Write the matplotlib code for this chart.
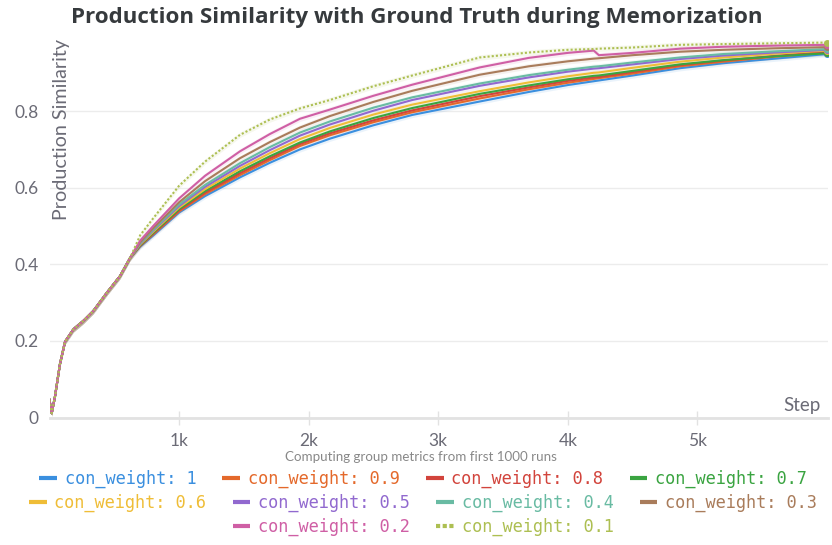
import matplotlib
matplotlib.use("Agg")
import matplotlib.pyplot as plt
from matplotlib.lines import Line2D

# ---------------- data ----------------
steps = [0, 17, 42, 81, 120, 184, 261, 338, 441, 544, 621,
         700, 800, 1000, 1200, 1470, 1700, 1933, 2164, 2500, 2800,
         3320, 3700, 4000, 4200, 4240, 4500, 4865, 5200, 5600, 6000]

early = [0.046, 0.011, 0.054, 0.14, 0.198, 0.23, 0.252, 0.278, 0.325, 0.369, 0.416]

labels = ["con_weight: 1", "con_weight: 0.9", "con_weight: 0.8", "con_weight: 0.7",
          "con_weight: 0.6", "con_weight: 0.5", "con_weight: 0.4", "con_weight: 0.3",
          "con_weight: 0.2", "con_weight: 0.1"]

w_1_0 = early + [0.446, 0.475, 0.535, 0.578, 0.627, 0.665, 0.700, 0.728, 0.763, 0.79,
                 0.825, 0.85, 0.868, 0.878, 0.880, 0.893, 0.912, 0.925, 0.937, 0.949]
w_0_9 = early + [0.448, 0.478, 0.538, 0.583, 0.633, 0.672, 0.709, 0.737, 0.771, 0.797,
                 0.833, 0.857, 0.874, 0.884, 0.886, 0.898, 0.917, 0.929, 0.942, 0.953]
w_0_8 = early + [0.449, 0.48, 0.541, 0.587, 0.638, 0.677, 0.714, 0.742, 0.776, 0.802,
                 0.839, 0.862, 0.879, 0.888, 0.889, 0.902, 0.92, 0.932, 0.944, 0.955]
w_0_7 = early + [0.45, 0.482, 0.544, 0.591, 0.643, 0.682, 0.718, 0.747, 0.782, 0.808,
                 0.845, 0.867, 0.883, 0.892, 0.893, 0.905, 0.922, 0.933, 0.943, 0.951]
w_0_6 = early + [0.452, 0.485, 0.548, 0.596, 0.65, 0.69, 0.727, 0.756, 0.791, 0.817,
                 0.852, 0.875, 0.891, 0.9, 0.901, 0.913, 0.929, 0.94, 0.95, 0.958]
w_0_5 = early + [0.454, 0.488, 0.552, 0.602, 0.657, 0.698, 0.736, 0.765, 0.801, 0.829,
                 0.866, 0.888, 0.903, 0.911, 0.912, 0.922, 0.936, 0.945, 0.953, 0.96]
w_0_4 = early + [0.456, 0.49, 0.556, 0.607, 0.664, 0.706, 0.744, 0.773, 0.809, 0.836,
                 0.872, 0.894, 0.908, 0.916, 0.917, 0.927, 0.94, 0.949, 0.956, 0.962]
w_0_3 = early + [0.458, 0.494, 0.562, 0.617, 0.677, 0.719, 0.757, 0.787, 0.824, 0.853,
                 0.895, 0.917, 0.93, 0.937, 0.938, 0.946, 0.955, 0.96, 0.964, 0.967]
w_0_2 = early + [0.462, 0.5, 0.572, 0.631, 0.695, 0.74, 0.78, 0.804, 0.84, 0.869,
                 0.914, 0.939, 0.952, 0.958, 0.946, 0.952, 0.963, 0.968, 0.971, 0.973]
w_0_1 = early + [0.476, 0.52, 0.605, 0.668, 0.738, 0.778, 0.807, 0.829, 0.865, 0.893,
                 0.94, 0.953, 0.96, 0.962, 0.963, 0.966, 0.973, 0.975, 0.977, 0.979]

series = [w_1_0, w_0_9, w_0_8, w_0_7, w_0_6, w_0_5, w_0_4, w_0_3, w_0_2, w_0_1]
colors = ["#3a8fdf", "#e4692b", "#d2443c", "#3aa441", "#efbd37",
          "#9169cf", "#69bba3", "#a97c5b", "#cf5fa5", "#adbf52"]
styles = ["-"] * 9 + [(0, (1, 1))]

xticks = [1000, 2000, 3000, 4000, 5000]
xtick_labels = ["1k", "2k", "3k", "4k", "5k"]
yticks = [0, 0.2, 0.4, 0.6, 0.8]
ytick_labels = ["0", "0.2", "0.4", "0.6", "0.8"]

# ---------------- figure ----------------
W, H = 832, 545
fig = plt.figure(figsize=(W / 100, H / 100), dpi=100)
ax = fig.add_axes([49.5 / W, 1 - 417.5 / H, (828 - 49.5) / W, 383 / H])

tick_color = "#6b6b76"
font_ui = "Lato"

for ys, c in zip(series, colors):
    lo = [v - 0.007 for v in ys]
    hi = [v + 0.007 for v in ys]
    ax.fill_between(steps, lo, hi, color=c, alpha=0.10, lw=0, zorder=1)
for ys, c, ls, lab in zip(series, colors, styles, labels):
    ax.plot(steps, ys, color=c, ls=ls, lw=1.5, label=lab, zorder=3)
    ax.plot(steps[-1:], ys[-1:], "o", color=c, ms=4, zorder=4)

ax.set_xlim(0, 6008)
ax.set_ylim(0, 1.0)
ax.set_xticks(xticks)
ax.set_xticklabels(xtick_labels)
ax.set_yticks(yticks)
ax.set_yticklabels(ytick_labels)
ax.grid(axis="y", color="#ececec", lw=1)
ax.set_axisbelow(True)
for s in ["top", "right", "left"]:
    ax.spines[s].set_visible(False)
ax.spines["bottom"].set_color("#e2e2e2")
ax.spines["bottom"].set_linewidth(2)
ax.tick_params(axis="y", length=0, pad=8, labelsize=12.5, labelcolor=tick_color)
ax.tick_params(axis="x", direction="inout", length=10, width=1, color="#e2e2e2",
               pad=6, labelsize=12.5, labelcolor=tick_color)
for t in ax.get_xticklabels() + ax.get_yticklabels():
    t.set_fontfamily(font_ui)

# title
fig.text(417 / W, 1 - 18 / H, "Production Similarity with Ground Truth during Memorization",
         ha="center", va="center", fontsize=16.1, fontweight="bold",
         color="#363a3d", family="Open Sans")
# y label inside plot
fig.text(62 / W, 1 - 39 / H, "Production Similarity", rotation=90, ha="center",
         va="top", fontsize=14.2, color=tick_color, family=font_ui)
# x label inside plot
fig.text(821 / W, 1 - 405 / H, "Step", ha="right", va="center", fontsize=13.5,
         color=tick_color, family=font_ui)
fig.text(421 / W, 1 - 457 / H, "Computing group metrics from first 1000 runs",
         ha="center", va="center", fontsize=9.6, color="#888888", family=font_ui)

# legend rows
rows = [[0, 1, 2, 3], [4, 5, 6, 7], [8, 9]]
row_y = [479, 503, 527]
for r, yy in zip(rows, row_y):
    handles = [Line2D([0], [0], color=colors[i], ls="-" if i < 9 else (0, (1, 0.6)),
                      lw=3, solid_capstyle="butt", dash_capstyle="butt")
               for i in r]
    leg = fig.legend(handles, [labels[i] for i in r], loc="center",
                     bbox_to_anchor=(423 / W, 1 - yy / H), ncol=len(r),
                     frameon=False, handlelength=1.05, handletextpad=0.45,
                     columnspacing=1.55, prop={"family": "DejaVu Sans Mono", "size": 12.2},
                     borderaxespad=0, borderpad=0)
    for t, i in zip(leg.get_texts(), r):
        t.set_color(colors[i])

fig.savefig("out.png", dpi=100)
